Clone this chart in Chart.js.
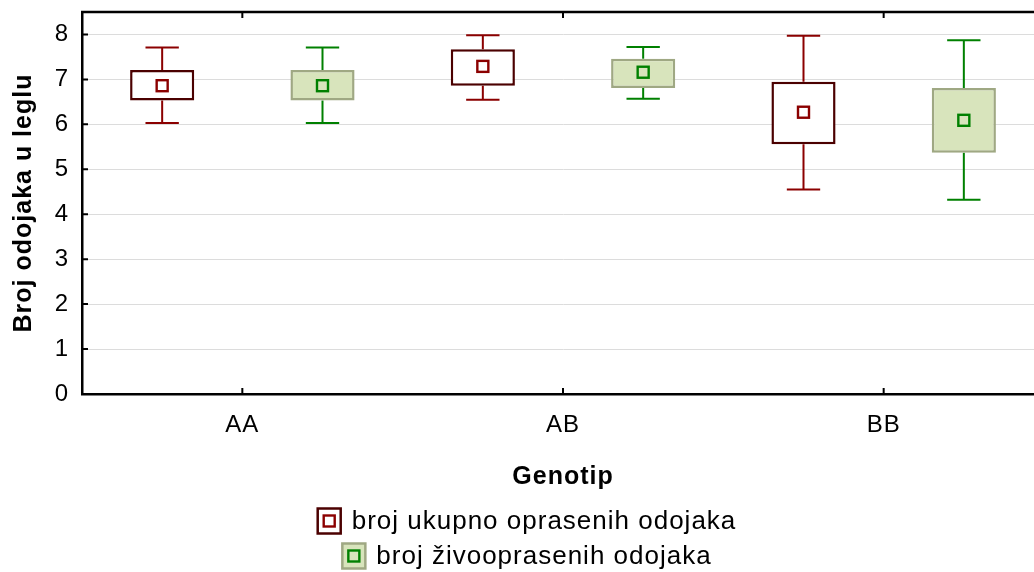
<!DOCTYPE html>
<html>
<head>
<meta charset="utf-8">
<script src="https://cdn.jsdelivr.net/npm/chart.js@4.4.1/dist/chart.umd.min.js"></script>
<style>
html,body{margin:0;padding:0;overflow:hidden;background:#ffffff;}
#wrap{width:1050px;height:572px;position:relative;}
</style>
</head>
<body>
<div id="wrap"><canvas id="c"></canvas></div>
<script>
// ---- data ----
const categories = ['AA', 'AB', 'BB'];
const yTicks = [0, 1, 2, 3, 4, 5, 6, 7, 8];
const seriesNames = ['broj ukupno oprasenih odojaka', 'broj živooprasenih odojaka'];

const ukupnoMin  = [6.03, 6.55, 4.55];
const ukupnoQ1   = [6.53, 6.86, 5.56];
const ukupnoMean = [6.86, 7.29, 6.27];
const ukupnoQ3   = [7.21, 7.67, 6.95];
const ukupnoMax  = [7.71, 7.98, 7.97];

const zivoMin  = [6.03, 6.57, 4.32];
const zivoQ1   = [6.53, 6.81, 5.37];
const zivoMean = [6.86, 7.16, 6.09];
const zivoQ3   = [7.21, 7.46, 6.81];
const zivoMax  = [7.71, 7.72, 7.87];

// ---- styles ----
const FONT = '"Liberation Sans", Arial, sans-serif';
const SPACING = '1px';
const series = [
  { name: seriesNames[0], min: ukupnoMin, q1: ukupnoQ1, mean: ukupnoMean, q3: ukupnoQ3, max: ukupnoMax,
    fill: '#ffffff', border: '#4b0000', line: '#8b0000', markFill: '#ffffff' },
  { name: seriesNames[1], min: zivoMin, q1: zivoQ1, mean: zivoMean, q3: zivoQ3, max: zivoMax,
    fill: '#d8e4bc', border: '#9fa883', line: '#008000', markFill: '#d8e4bc' }
];

const extras = {
  id: 'boxExtras',
  beforeLayout(chart) { chart.ctx.letterSpacing = SPACING; },
  beforeDraw(chart) { chart.ctx.letterSpacing = SPACING; },
  beforeDatasetsDraw(chart) {
    const ctx = chart.ctx, y = chart.scales.y;
    ctx.save();
    series.forEach((s, d) => {
      const meta = chart.getDatasetMeta(d);
      meta.data.forEach((bar, i) => {
        const x = bar.x;
        const cap = bar.width * 0.52;
        const yMax = y.getPixelForValue(s.max[i]);
        const yMin = y.getPixelForValue(s.min[i]);
        const yQ3 = y.getPixelForValue(s.q3[i]);
        const yQ1 = y.getPixelForValue(s.q1[i]);
        ctx.strokeStyle = s.line;
        ctx.lineWidth = 2;
        ctx.beginPath();
        ctx.moveTo(x, yQ3); ctx.lineTo(x, yMax);
        ctx.moveTo(x - cap / 2, yMax); ctx.lineTo(x + cap / 2, yMax);
        ctx.moveTo(x, yQ1); ctx.lineTo(x, yMin);
        ctx.moveTo(x - cap / 2, yMin); ctx.lineTo(x + cap / 2, yMin);
        ctx.stroke();
      });
    });
    ctx.restore();
  },
  afterDatasetsDraw(chart) {
    const ctx = chart.ctx, y = chart.scales.y;
    ctx.save();
    series.forEach((s, d) => {
      const meta = chart.getDatasetMeta(d);
      meta.data.forEach((bar, i) => {
        const x = bar.x, ym = y.getPixelForValue(s.mean[i]);
        const sz = 11;
        ctx.fillStyle = s.markFill;
        ctx.fillRect(x - sz / 2, ym - sz / 2, sz, sz);
        ctx.strokeStyle = s.line;
        ctx.lineWidth = 2.4;
        ctx.strokeRect(x - sz / 2, ym - sz / 2, sz, sz);
      });
    });
    ctx.restore();
  },
  afterDraw(chart) {
    const ctx = chart.ctx, a = chart.chartArea, xs = chart.scales.x, ys = chart.scales.y;
    ctx.save();
    // top frame line
    ctx.strokeStyle = '#000';
    ctx.lineWidth = 2.5;
    ctx.beginPath();
    ctx.moveTo(a.left - 1, a.top); ctx.lineTo(a.right, a.top);
    ctx.stroke();
    // inward tick marks
    ctx.lineWidth = 2;
    ctx.beginPath();
    categories.forEach((c, i) => {
      const px = xs.getPixelForValue(i);
      ctx.moveTo(px, a.bottom); ctx.lineTo(px, a.bottom - 6);
      ctx.moveTo(px, a.top); ctx.lineTo(px, a.top + 6);
    });
    yTicks.forEach(v => {
      const py = ys.getPixelForValue(v);
      ctx.moveTo(a.left, py); ctx.lineTo(a.left + 6, py);
    });
    ctx.stroke();
    // legend
    ctx.font = '26px ' + FONT;
    ctx.letterSpacing = SPACING;
    ctx.textBaseline = 'middle';
    ctx.textAlign = 'left';
    const rows = [521, 556];
    const cx = chart.width / 2 + 2;
    series.forEach((s, k) => {
      const tw = ctx.measureText(s.name).width;
      const iw = 23, ih = 25, gap = 11;
      const x0 = cx - (iw + gap + tw) / 2;
      const yc = rows[k];
      ctx.fillStyle = s.fill;
      ctx.fillRect(x0, yc - ih / 2, iw, ih);
      ctx.strokeStyle = s.border;
      ctx.lineWidth = 2.5;
      ctx.strokeRect(x0, yc - ih / 2, iw, ih);
      const isz = 11;
      ctx.fillStyle = s.markFill;
      ctx.fillRect(x0 + iw / 2 - isz / 2, yc - isz / 2, isz, isz);
      ctx.strokeStyle = s.line;
      ctx.lineWidth = 2.4;
      ctx.strokeRect(x0 + iw / 2 - isz / 2, yc - isz / 2, isz, isz);
      ctx.fillStyle = '#000';
      ctx.fillText(s.name, x0 + iw + gap, yc + 1);
    });
    ctx.restore();
  }
};

Chart.defaults.color = '#000';
Chart.defaults.font.family = FONT;

new Chart(document.getElementById('c'), {
  type: 'bar',
  data: {
    labels: categories,
    datasets: series.map(s => ({
      label: s.name,
      data: s.q1.map((v, i) => [v, s.q3[i]]),
      backgroundColor: s.fill,
      borderColor: s.border,
      borderWidth: 2.5,
      borderSkipped: false,
      categoryPercentage: 1.0,
      barPercentage: 0.4
    }))
  },
  options: {
    responsive: true,
    maintainAspectRatio: false,
    animation: false,
    events: [],
    layout: { padding: { left: 0, right: 6, top: 12, bottom: 0 } },
    plugins: { legend: { display: false }, tooltip: { enabled: false } },
    scales: {
      x: {
        type: 'category',
        offset: true,
        grid: { display: false },
        border: { display: true, color: '#000', width: 2.5 },
        ticks: { font: { size: 24 }, padding: 9, color: '#000' },
        title: { display: true, text: 'Genotip', font: { size: 25, weight: 'bold' }, padding: { top: 0, bottom: 80 } },
        afterFit(scale) { scale.height = 178; scale.paddingLeft = 0; scale.paddingRight = 0; }
      },
      y: {
        min: 0,
        max: 8.5,
        grid: { display: true, color: '#dcdcdc', lineWidth: 1, drawTicks: false },
        border: { display: true, color: '#000', width: 2.5 },
        ticks: { font: { size: 24 }, padding: 13, color: '#000' },
        afterBuildTicks(scale) { scale.ticks = yTicks.map(v => ({ value: v })); },
        title: { display: true, text: 'Broj odojaka u leglu', font: { size: 25, weight: 'bold' }, padding: { top: 9, bottom: 0 } },
        afterFit(scale) { scale.width = 82; scale.paddingTop = 0; scale.paddingBottom = 0; }
      }
    }
  },
  plugins: [extras]
});
</script>
</body>
</html>
